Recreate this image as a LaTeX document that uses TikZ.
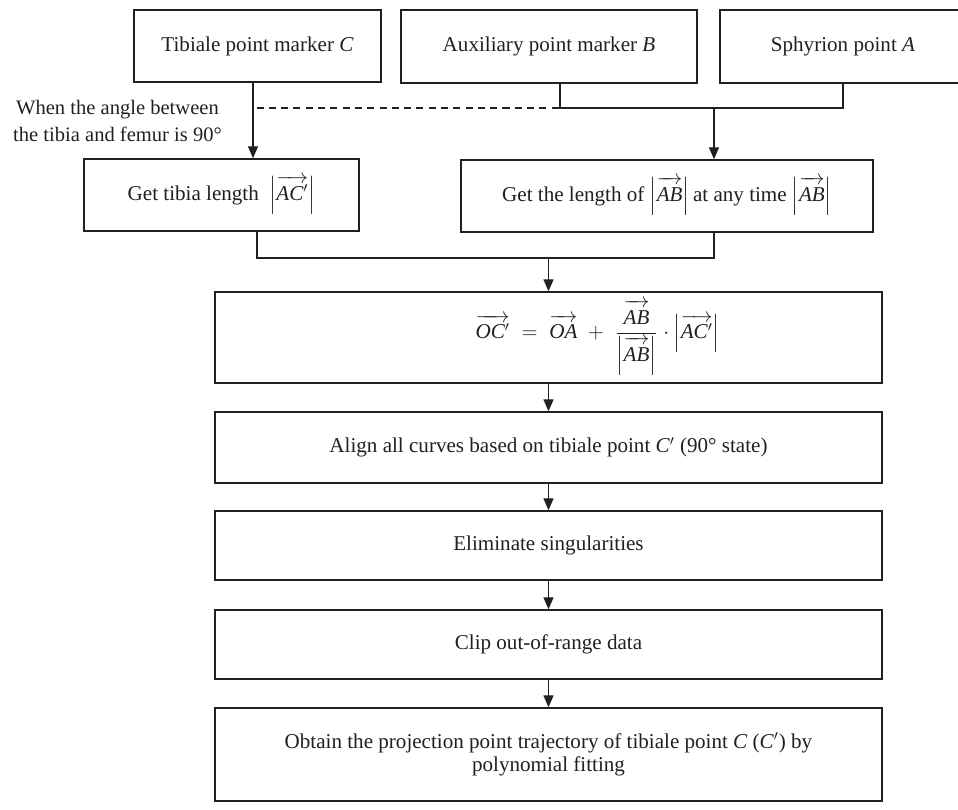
\documentclass[tikz,border=0pt]{standalone}
\usepackage{amsmath}
\usepackage{fontspec}
\setmainfont{Liberation Serif}
\usetikzlibrary{arrows.meta, positioning, calc}
\definecolor{inkgray}{HTML}{231F20}
\newcommand{\vlen}[1]{\overrightarrow{\rule{0pt}{9.5pt}\textit{#1}}}

\begin{document}
\begin{tikzpicture}[
  x=0.02cm, y=-0.02cm,
  >={Triangle[length=2.4mm, width=2mm]},
  flowbox/.style={
    draw=inkgray, line width=0.8pt, fill=white, text=inkgray,
    align=center, inner sep=3pt, font=\fontsize{12}{13}\selectfont
  },
  wh/.style 2 args={minimum width=#1*0.02cm, minimum height=#2*0.02cm},
  link/.style={draw=inkgray, line width=0.8pt},
  arr/.style={->, draw=inkgray, line width=0.8pt},
  dashlink/.style={draw=inkgray, line width=0.6pt, dash pattern=on 4pt off 3pt},
  sidenote/.style={text=inkgray, align=center, font=\fontsize{11.7}{15.5}\selectfont},
]

% ============================================================
% Canvas
% ============================================================
\clip (0,0) rectangle (958,810);

% ============================================================
% Markers (top row)
% ============================================================
\node[flowbox, wh={247}{72}] (markC) at (257.5,46)
  {Tibiale point marker \textit{C}};
\node[flowbox, wh={296}{73}] (markB) at (549,46.5)
  {Auxiliary point marker \textit{B}};
\node[flowbox, wh={246}{73}] (markA) at (843,46.5)
  {Sphyrion point \textit{A}};

% --- condition note ---
\node[sidenote, anchor=east] (angle) at (228,121)
  {When the angle between\\the tibia and femur is 90°};

% ============================================================
% Lengths
% ============================================================
\node[flowbox, wh={275}{72}] (tibia) at (221.5,195)
  {Get tibia length \ $\left|\vlen{AC$'$}\right|$};
\node[flowbox, wh={412}{72}] (ablen) at (667,196)
  {Get the length of $\left|\vlen{AB}\right|$\,at any time
   $\left|\vlen{AB}\right|$};

% ============================================================
% Main flow: top to bottom
% ============================================================
\node[flowbox, wh={667}{91}] (formula) at (548.5,337.5)
  {\hspace*{56pt}$\vlen{OC$'$} \;=\; \vlen{OA} \;+\;
   \dfrac{\vlen{AB}}{\left|\vlen{AB}\right|}
   \cdot\left|\vlen{AC$'$}\right|$};
\node[flowbox, wh={667}{71}] (align) at (548.5,447.5)
  {Align all curves based on tibiale point \textit{C}$'$ (90° state)};
\node[flowbox, wh={667}{69}] (elim) at (548.5,545.5)
  {Eliminate singularities};
\node[flowbox, wh={667}{69}] (clipdata) at (548.5,644.5)
  {Clip out-of-range data};
\node[flowbox, wh={667}{93}] (obtain) at (548.5,754.5)
  {Obtain the projection point trajectory of tibiale point \textit{C} (\textit{C}$'$) by\\
   polynomial fitting};

% ============================================================
% Connectors from the markers
% ============================================================
\coordinate (jC) at (253,108);
\coordinate (jB) at (560,108);
\coordinate (jAB) at (714,108);

\draw[arr] (markC.south -| jC) -- (tibia.north -| jC);
\draw[link] (markB.south -| jB) -- (jB) -- (jB -| markA.south) -- (markA.south);
\draw[arr] (jAB) -- (jAB |- ablen.north);
\draw[dashlink] ([xshift=2pt]jC) -- (jB);

% ============================================================
% Merge into the formula
% ============================================================
\coordinate (tL) at (257,258);
\coordinate (tR) at (714,258);
\draw[link] (tibia.south -| tL) -- (tL) -- (tR) -- (ablen.south -| tR);
\draw[arr] (formula.north |- tL) -- (formula.north);

% ============================================================
% Vertical arrows
% ============================================================
\draw[arr] (formula.south) -- (align.north);
\draw[arr] (align.south) -- (elim.north);
\draw[arr] (elim.south) -- (clipdata.north);
\draw[arr] (clipdata.south) -- (obtain.north);

\end{tikzpicture}
\end{document}
